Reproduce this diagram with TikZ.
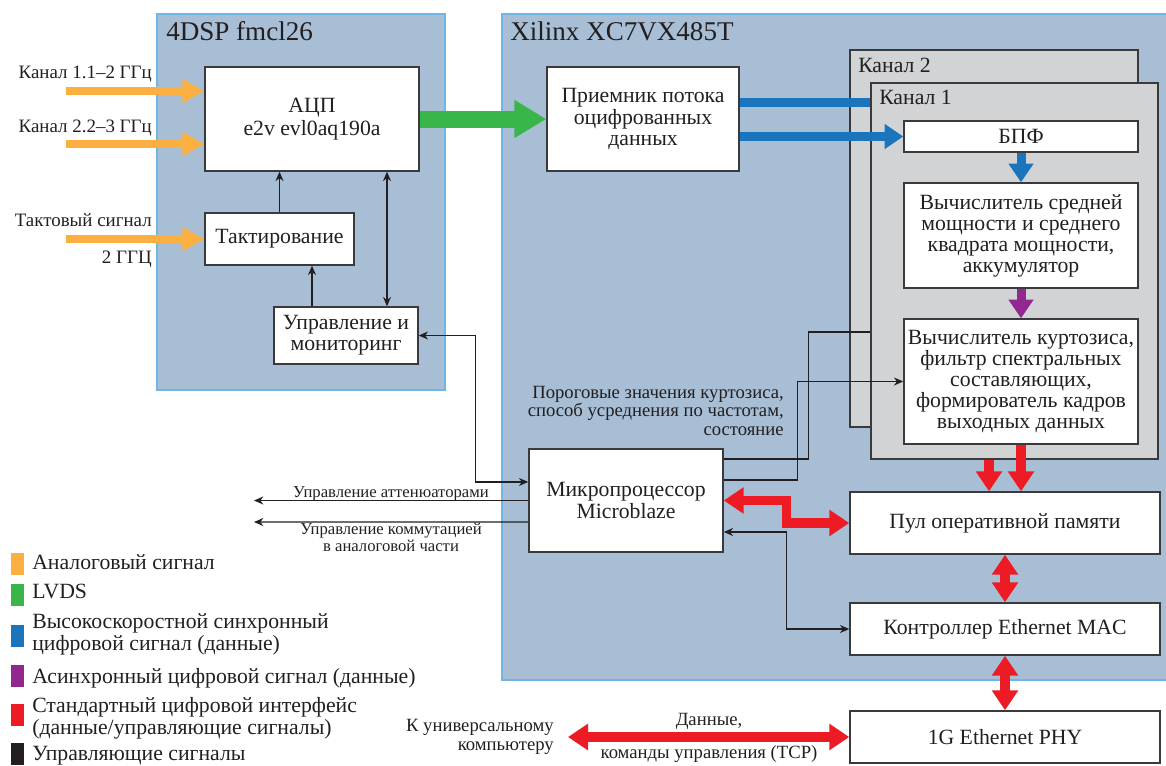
\documentclass[tikz,border=0pt]{standalone}
\usepackage{fontspec}
\setmainfont{Liberation Serif}
\usetikzlibrary{arrows.meta}

\definecolor{boardbg}{HTML}{A7BED5}
\definecolor{boardedge}{HTML}{6DB6E6}
\definecolor{changray}{HTML}{D1D3D4}
\definecolor{boxline}{HTML}{3A3A3C}
\definecolor{ink}{HTML}{231F20}
\definecolor{analogc}{HTML}{FAAF40}
\definecolor{lvdsc}{HTML}{3AB54A}
\definecolor{syncc}{HTML}{1B75BC}
\definecolor{asyncc}{HTML}{92278F}
\definecolor{stdc}{HTML}{ED1C24}

\newcommand{\titlefont}{\fontsize{20.3}{22}\selectfont}
\newcommand{\blockfont}{\fontsize{16.3}{15.8}\selectfont}
\newcommand{\sidefont}{\fontsize{14.2}{16}\selectfont}
\newcommand{\notefont}{\fontsize{14}{13.6}\selectfont}
\newcommand{\smallnotefont}{\fontsize{12.5}{12.6}\selectfont}
\newcommand{\legendfont}{\fontsize{16.3}{15.8}\selectfont}

\tikzset{
  sz/.style 2 args={minimum width=#1*0.75pt, minimum height=#2*0.75pt},
  board/.style={draw=boardedge, line width=1.1pt, fill=boardbg, inner sep=0pt},
  chan/.style={draw=boxline, line width=1.1pt, fill=changray, inner sep=0pt},
  blk/.style={draw=boxline, line width=1.1pt, fill=white, inner sep=0pt,
    align=center, font=\blockfont, text=ink},
  ttl/.style={font=\titlefont, text=ink, inner sep=0pt},
  chttl/.style={font=\blockfont, text=ink, inner sep=0pt},
  side/.style={font=\sidefont, text=ink, inner sep=0pt},
  note/.style={font=\notefont, text=ink, inner sep=0pt},
  smallnote/.style={font=\smallnotefont, text=ink, inner sep=0pt},
  swatch/.style={sz={13}{22}, inner sep=0pt},
  legtxt/.style={font=\legendfont, text=ink, inner sep=0pt, align=left},
  % thick signal arrows
  analog/.style={analogc, line width=6pt, -{Triangle[length=16.5pt,width=17pt]}},
  lvds/.style={lvdsc, line width=12.75pt, -{Triangle[length=24pt,width=27pt]}},
  hsync/.style={syncc, line width=6.75pt, -{Triangle[length=14pt,width=18pt]}},
  async/.style={asyncc, line width=6.75pt, -{Triangle[length=14pt,width=18pt]}},
  std/.style={stdc, line width=7pt, line join=miter, -{Triangle[length=15pt,width=19pt]}},
  stdd/.style={std, {Triangle[length=15pt,width=19pt]}-{Triangle[length=15pt,width=19pt]}},
  % thin control lines
  ctl/.style={ink, line width=0.9pt},
  ctl1/.style={ctl, -{Stealth[length=7pt,width=6pt]}},
  ctl2/.style={ctl, {Stealth[length=7pt,width=6pt]}-{Stealth[length=7pt,width=6pt]}},
}

\begin{document}
\begin{tikzpicture}[x=0.75pt, y=-0.75pt]
  \useasboundingbox (0,0) rectangle (1166,765);

  %% boards
  \node[board, sz={288}{376}] (dsp) at (301,202) {};
  \node[board, sz={668}{666}] (xil) at (836,347) {};
  \node[ttl, anchor=base west] (dspname) at (166,40) {4DSP fmcl26};
  \node[ttl, anchor=base west] (xilname) at (510,40) {Xilinx XC7VX485T};

  %% channel 2 (behind)
  \node[chan, sz={288}{377}] (ch2) at (994,238.5) {};
  \node[chttl, anchor=base west] (ch2name) at (858,72) {Канал 2};

  %% blocks
  \node[blk, sz={214}{104}] (adc) at (312,119) {АЦП\\[2pt]e2v evl0aq190a};
  \node[blk, sz={149}{52}] (clk) at (279.5,239) {Тактирование};
  \node[blk, sz={144}{57}] (mon) at (346,335.5) {Управление и\\мониторинг};
  \node[blk, sz={192}{104}] (rx) at (643,119) {Приемник потока\\оцифрованных\\данных};
  \node[blk, sz={194}{103}] (mcu) at (626,500.5) {Микропроцессор\\[1pt]Microblaze};
  \node[blk, sz={310}{62}] (pool) at (1005,523) {Пул оперативной памяти};
  \node[blk, sz={310}{52}] (mac) at (1005,629) {Контроллер Ethernet MAC};
  \node[blk, sz={310}{52}] (phy) at (1005,737) {1G Ethernet PHY};

  %% into channel 2
  \coordinate (ch2in) at (885,102);
  \coordinate (ch2k) at (885,332);
  \draw[hsync, -] (rx.east |- ch2in) -- (ch2in);
  \draw[ctl] ([yshift=31.1pt]mcu.east) -- ++(85,0) |- (ch2k);

  %% channel 1
  \node[chan, sz={287}{376}] (ch1) at (1014.5,271) {};
  \node[chttl, anchor=base west] (ch1name) at (879,104) {Канал 1};
  \node[blk, sz={234}{31}] (fft) at (1021,136.5) {БПФ};
  \node[blk, sz={234}{105}] (avg) at (1021,235.5)
    {Вычислитель средней\\мощности и среднего\\квадрата мощности,\\аккумулятор};
  \node[blk, sz={234}{125}] (kurt) at (1021,381.5)
    {Вычислитель куртозиса,\\фильтр спектральных\\составляющих,\\формирователь кадров\\выходных данных};

  %% analog inputs
  \coordinate (in1) at (66,91);
  \coordinate (in2) at (66,144);
  \coordinate (in3) at (66,239);
  \draw[analog] (in1) -- (in1 -| adc.west);
  \draw[analog] (in2) -- (in2 -| adc.west);
  \draw[analog] (in3) -- (in3 -| clk.west);
  \node[side, anchor=base east] (lin1) at (152,78) {Канал 1.1--2 ГГц};
  \node[side, anchor=base east] (lin2) at (152,132) {Канал 2.2--3 ГГц};
  \node[side, anchor=base east] (lin3) at (152,226) {Тактовый сигнал};
  \node[side, anchor=base east] (lin3b) at (152,263) {2 ГГЦ};

  %% 4DSP control
  \draw[ctl1] (clk.north) -- (clk.north |- adc.south);
  \draw[ctl1] ([xshift=-25.5pt]mon.north) -- ([xshift=-25.5pt]mon.north |- clk.south);
  \draw[ctl2] ([xshift=30.75pt]mon.north) -- ([xshift=30.75pt]mon.north |- adc.south);

  %% data path
  \draw[lvds] (adc) -- (rx);
  \draw[hsync] (rx.east |- fft.west) -- (fft.west);
  \draw[hsync] (fft) -- (avg);
  \draw[async] (avg) -- (kurt);
  \draw[std] ([xshift=-24pt]kurt.south |- ch1.south) -- ([xshift=-24pt]kurt.south |- pool.north);
  \draw[std] (kurt.south) -- (kurt.south |- pool.north);
  \draw[stdd] (mcu.east) -- ++(63,0) |- (pool.west);
  \draw[stdd] (pool) -- (mac);
  \draw[stdd] (mac) -- (phy);
  \coordinate (pc) at (568,737);
  \draw[stdd] (pc) -- (phy.west);

  %% control lines
  \draw[ctl2] (mon.east) -- ++(57,0) |- ([yshift=13.9pt]mcu.west);
  \draw[ctl1] ([yshift=15.4pt]mcu.east) -- ++(74,0) |- (kurt.west);
  \draw[ctl2] ([yshift=-23.6pt]mcu.east) -- ++(63,0) |- (mac.west);
  \coordinate (att) at (254,500.5);
  \coordinate (sw) at (254,522);
  \draw[ctl1] (mcu.west) -- (att);
  \draw[ctl1] ([yshift=-16.1pt]mcu.west) -- (sw);

  %% labels
  \node[smallnote, anchor=base] (natt) at (391,497) {Управление аттенюаторами};
  \node[smallnote, align=center, anchor=base] (nsw) at (391,551)
    {Управление коммутацией\\в аналоговой части};
  \node[note, align=right, anchor=base east] (nthr) at (784,435)
    {Пороговые значения куртозиса,\\способ усреднения по частотам,\\состояние};
  \node[note, anchor=base] (ndata) at (709,725) {Данные,};
  \node[note, anchor=base] (ncmd) at (709,758) {команды управления (TCP)};
  \node[note, align=right, anchor=base east] (npc) at (554,750) {К универсальному\\компьютеру};

  %% legend
  \node[swatch, fill=analogc] (kan) at (17.5,564) {};
  \node[swatch, fill=lvdsc] (klv) at (17.5,594.5) {};
  \node[swatch, fill=syncc] (ksy) at (17.5,635.5) {};
  \node[swatch, fill=asyncc] (kas) at (17.5,675.5) {};
  \node[swatch, fill=stdc] (kst) at (17.5,714.5) {};
  \node[swatch, fill=ink] (kct) at (17.5,753.5) {};
  \node[legtxt, anchor=base west] (tan) at (32,569) {Аналоговый сигнал};
  \node[legtxt, anchor=base west] (tlv) at (32,598) {LVDS};
  \node[legtxt, anchor=base west] (tsy) at (32,650) {Высокоскоростной синхронный\\цифровой сигнал (данные)};
  \node[legtxt, anchor=base west] (tas) at (32,683) {Асинхронный цифровой сигнал (данные)};
  \node[legtxt, anchor=base west] (tst) at (32,734) {Стандартный цифровой интерфейс\\(данные/управляющие сигналы)};
  \node[legtxt, anchor=base west] (tct) at (32,760) {Управляющие сигналы};
\end{tikzpicture}
\end{document}
